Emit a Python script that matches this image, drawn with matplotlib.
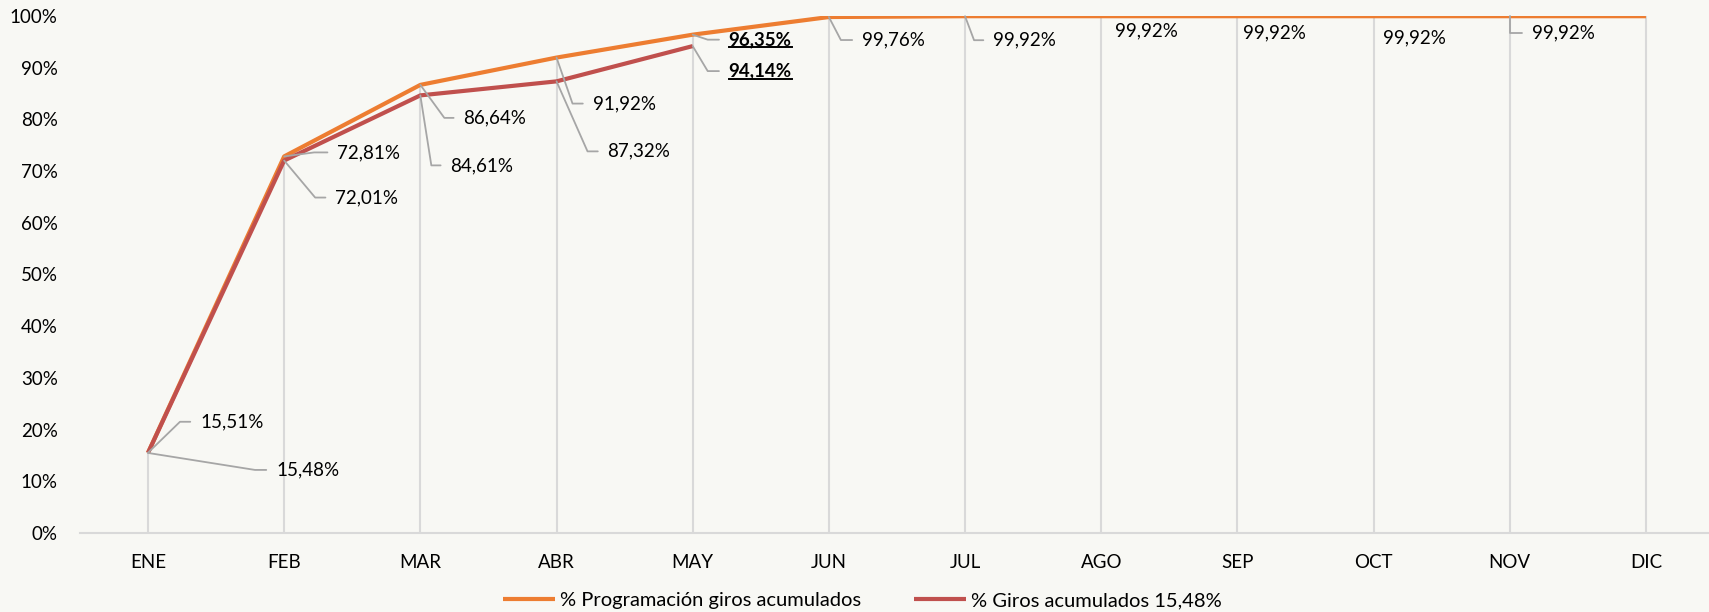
import math
import matplotlib
matplotlib.use("Agg")
import matplotlib.pyplot as plt
from matplotlib.lines import Line2D
from matplotlib.text import Text
from matplotlib.ticker import FuncFormatter, MultipleLocator

plt.rcParams['font.family'] = ['Lato', 'DejaVu Sans']

# datos
meses = ['ENE', 'FEB', 'MAR', 'ABR', 'MAY', 'JUN', 'JUL', 'AGO', 'SEP', 'OCT', 'NOV', 'DIC']
programacion = [15.51, 72.81, 86.64, 91.92, 96.35, 99.76, 99.92, 99.92, 99.92, 99.92, 99.92, 99.92]
giros = [15.48, 72.01, 84.61, 87.32, 94.14]
nombre_prog = '% Programación giros acumulados'
nombre_giros = '% Giros acumulados 15,48%'

# posiciones de etiquetas (px): texto dx, dy, codo dx, con guia?
pos_prog = [(52, 31, 32, True), (53, 4, 30, True), (43, -33, 24, True), (36, -46, 16, True),
            (36, -5, 15, True), (33, -23, 12, True), (28, -24, 9, True), (14, -15, 0, False),
            (6, -17, 0, False), (9, -22, 0, False), (22, -17, 0, True), None]
pos_giros = [(128, -17, 107, True), (51, -37, 31, True), (30, -70, 11, True),
             (51, -70, 31, True), (36, -25, 15, True)]

naranja = '#ED7D31'
rojo = '#C0504D'
gris = '#A6A6A6'
fondo = '#F8F8F4'
fs = 13.5

fig = plt.figure(figsize=(17.09, 6.12), dpi=100, facecolor=fondo)
ax = fig.add_axes([0.04675, 0.1291, 0.9562, 0.8451])
ax.set_facecolor(fondo)

x = list(range(len(meses)))
ax.vlines(x, 0, programacion, color='#D9D9D9', lw=1.5, zorder=1)
ax.plot(x, programacion, color=naranja, lw=3, solid_capstyle='butt', zorder=3, label=nombre_prog)
ax.plot(x[:len(giros)], giros, color=rojo, lw=3, solid_capstyle='butt', zorder=4, label=nombre_giros)

ax.set_xlim(-0.5, 11.5)
ax.set_ylim(0, 100)
ax.yaxis.set_major_locator(MultipleLocator(10))
ax.yaxis.set_major_formatter(FuncFormatter(lambda v, p: f'{v:.0f}%'))
ax.set_xticks(x)
ax.set_xticklabels(meses)
ax.tick_params(axis='x', length=0, pad=15, labelsize=fs, colors='#000000')
ax.tick_params(axis='y', length=0, pad=16, labelsize=fs, colors='#000000')
for s in ['top', 'right', 'left']:
    ax.spines[s].set_visible(False)
ax.spines['bottom'].set_color('#D9D9D9')
ax.spines['bottom'].set_linewidth(1.5)


def etiqueta(i, v, pos, negrita=False):
    if pos is None:
        return None
    dx, dy, ex, guia = pos
    txt = f'{v:.2f}'.replace('.', ',') + '%'
    kw = {}
    if guia:
        ang = math.degrees(math.atan2(dy, ex)) if ex != 0 else 90
        kw['arrowprops'] = dict(arrowstyle='-', color=gris, lw=1.3, shrinkA=5, shrinkB=0,
                                relpos=(0, 0.5),
                                connectionstyle=f'angle,angleA=0,angleB={ang},rad=0')
    return ax.annotate(txt, xy=(i, v), xytext=(dx, dy), textcoords='offset pixels',
                       ha='left', va='center', fontsize=fs,
                       fontweight='bold' if negrita else 'normal', zorder=5, **kw)


subrayar = []
for i, v in enumerate(programacion):
    t = etiqueta(i, v, pos_prog[i], negrita=(i == len(giros) - 1))
    if i == len(giros) - 1:
        subrayar.append(t)
for i, v in enumerate(giros):
    t = etiqueta(i, v, pos_giros[i], negrita=(i == len(giros) - 1))
    if i == len(giros) - 1:
        subrayar.append(t)

fig.legend(loc='center', bbox_to_anchor=(0.5047, 0.0185), ncol=2, frameon=False,
           fontsize=14.5, handlelength=2.6, handletextpad=0.25, columnspacing=2.6,
           borderpad=0)

fig.canvas.draw()
r = fig.canvas.get_renderer()
for t in subrayar:
    bb = Text.get_window_extent(t, r)
    y0 = bb.y0 + 1
    fig.add_artist(Line2D([bb.x0 / fig.bbox.width, bb.x1 / fig.bbox.width],
                          [y0 / fig.bbox.height, y0 / fig.bbox.height],
                          color='black', lw=1.4))

fig.savefig('out.png', dpi=100, facecolor=fondo)
